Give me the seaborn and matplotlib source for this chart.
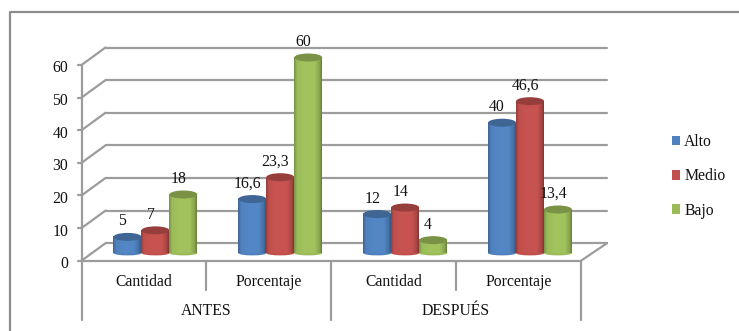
import numpy as np
import pandas as pd
import matplotlib
matplotlib.use("Agg")
import matplotlib.pyplot as plt
from matplotlib.colors import to_rgb, LinearSegmentedColormap
from matplotlib.lines import Line2D
from matplotlib.patches import Ellipse
from matplotlib.transforms import ScaledTranslation
import seaborn as sns

# ---- data ----
periods = ["ANTES", "DESPUÉS"]
measures = ["Cantidad", "Porcentaje", "Cantidad", "Porcentaje"]
positions = ["A-C", "A-P", "D-C", "D-P"]
alto = [5, 16.6, 12, 40]
medio = [7, 23.3, 14, 46.6]
bajo = [18, 60, 4, 13.4]
series_names = ["Alto", "Medio", "Bajo"]
y_ticks = [0, 10, 20, 30, 40, 50, 60]
palette = {"Alto": "#4f81bd", "Medio": "#c0504d", "Bajo": "#9bbb59"}

df = pd.DataFrame({
    "pos": positions * 3,
    "serie": np.repeat(series_names, 4),
    "valor": alto + medio + bajo,
})

W, H = 739, 331
FS = 11.3
INK = "#111111"
sns.set_theme(style="white")
plt.rcParams["font.family"] = ["Liberation Serif", "DejaVu Serif"]
fig = plt.figure(figsize=(W / 100, H / 100), dpi=100)
fig.patch.set_facecolor("white")

# plot-box in pixels
L, R, T, B = 81.5, 581, 65, 260.7
ax = fig.add_axes([L / W, 1 - B / H, (R - L) / W, (B - T) / H])
sns.barplot(data=df, x="pos", y="valor", hue="serie", hue_order=series_names,
            order=positions, palette=palette, width=0.672, gap=0, saturation=1,
            ax=ax, legend=False, zorder=3)
ax.set_xlim(-0.5, 3.5)
ax.set_ylim(0, 60)
ax.set_xlabel("")
ax.set_ylabel("")
ax.set_xticks([])
ax.set_yticks(y_ticks)
ax.set_facecolor("none")
for s in ax.spines.values():
    s.set_visible(False)
ax.tick_params(axis="y", length=0, pad=9.5, labelsize=FS, labelcolor=INK)


def px(dx, dy):
    return ScaledTranslation(dx / 100, -dy / 100, fig.dpi_scale_trans)


for t in ax.get_yticklabels():
    t.set_transform(t.get_transform() + px(0, 1.5))

GRID = "#9c9c9c"
LW = 1.6
tr = ax.transData
ux = 4 / (R - L)      # data x per px
uy = 60 / (B - T)     # data y per px
dx_back, dy_back = 24 * ux, 17.5 * uy
x_end = 3.5 + 26 * ux
# walls: depth lines, back gridlines, ticks
for v in y_ticks:
    ax.plot([-0.5, -0.5 + dx_back], [v, v + dy_back], color=GRID, lw=LW,
            clip_on=False, zorder=1, solid_capstyle="round")
    ax.plot([-0.5 + dx_back, x_end], [v + dy_back] * 2, color=GRID,
            lw=LW, clip_on=False, zorder=1)
    ax.plot([-0.5 - 4 * ux, -0.5], [v, v], color=GRID, lw=LW, clip_on=False, zorder=2)
# left wall vertical
ax.plot([-0.5, -0.5], [0, 60], color=GRID, lw=LW, clip_on=False, zorder=2)
# floor
ax.plot([-0.5, 3.5], [0, 0], color=GRID, lw=LW, clip_on=False, zorder=2)
ax.plot([3.5, x_end], [0, dy_back], color=GRID, lw=LW, clip_on=False, zorder=2)

# multi-level category axis below the floor
blend = ax.get_xaxis_transform()


def yfrac(p):
    return (B - p) / (B - T)


for x, ybot in zip([-0.5, 0.5, 1.5, 2.5, 3.5], [320, 290, 320, 290, 320]):
    ax.plot([x, x], [0, yfrac(ybot)], transform=blend, color=GRID, lw=LW, clip_on=False, zorder=2)
for i, m in enumerate(measures):
    ax.text(i, yfrac(285.5), m, transform=blend, ha="center", va="baseline", fontsize=FS, color=INK)
for i, p in enumerate(periods):
    ax.text(2 * i + 0.5, yfrac(315), p, transform=blend, ha="center", va="baseline", fontsize=FS, color=INK)

# cylinders built on seaborn's bars
shift_x, shift_y = 11.5, -7.5
shift = px(shift_x, shift_y)
ell_h = 8 * uy
stops = [0, .10, .35, .75, .92, 1]
bars = [b for b in ax.patches if b.get_height() > 0]
for b in bars:
    x0, w, h = b.get_x(), b.get_width(), b.get_height()
    base = np.array(to_rgb(b.get_facecolor()))
    dark = base * 0.68
    light = np.clip(base * 1.04, 0, 1)
    cmap = LinearSegmentedColormap.from_list(
        "c", list(zip(stops, [base * 0.78, base, light, light, base * 0.88, dark])))
    b.set_visible(False)
    z = 3 + x0 * 0.01
    ax.imshow(np.linspace(0, 1, 64)[None, :], cmap=cmap, aspect="auto",
              extent=[x0, x0 + w, 0, h], transform=tr + shift, zorder=z, clip_on=False)
    ax.add_patch(Ellipse((x0 + w / 2, 0), w, ell_h * 0.55, transform=tr + shift, zorder=z - 0.001,
                         facecolor=base, edgecolor="none", clip_on=False))
    ax.add_patch(Ellipse((x0 + w / 2, h), w, ell_h, transform=tr + shift, zorder=z + 0.001,
                         facecolor=base * 0.78, edgecolor="none", clip_on=False))
    label = f"{h:g}".replace(".", ",")
    ax.text(x0 + w / 2, h, label, transform=tr + px(shift_x - 5, shift_y - 15.5),
            ha="center", va="center", fontsize=FS, color=INK, zorder=10, clip_on=False)
ax.set_xlim(-0.5, 3.5)
ax.set_ylim(0, 60)

# legend
handles = [plt.Rectangle((0, 0), 1, 1, facecolor=palette[s], edgecolor="none") for s in series_names]
fig.legend(handles, series_names, loc="center left", bbox_to_anchor=(672 / W, 1 - 176.5 / H),
           frameon=False, fontsize=FS, labelspacing=1.15, handlelength=0.52, handleheight=0.52,
           handletextpad=0.25, borderpad=0, borderaxespad=0, labelcolor=INK)

# outer chart border (left and top visible)
fig.add_artist(Line2D([9.5 / W, 9.5 / W, 1], [0, 1 - 11.5 / H, 1 - 11.5 / H],
                      transform=fig.transFigure, color="#8c8c8c", lw=1.6))

fig.savefig("out.png", dpi=100)
